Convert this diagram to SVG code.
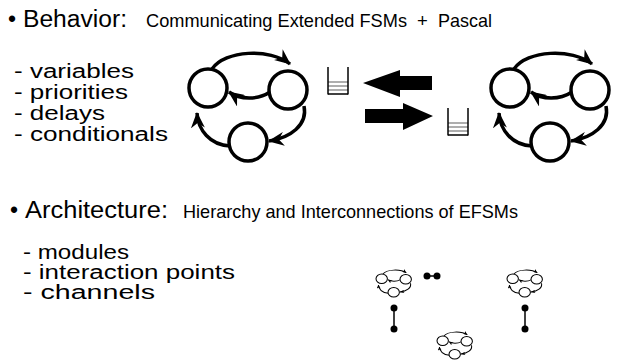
<svg xmlns="http://www.w3.org/2000/svg" xmlns:xlink="http://www.w3.org/1999/xlink" width="621" height="364" viewBox="0 0 621 364">
  <style>
    .head { font-family: "Liberation Sans", Arial, sans-serif; font-size: 23px; fill: #000; }
    .sub { font-family: "Liberation Sans", Arial, sans-serif; font-size: 18.5px; fill: #000; }
    .item { font-family: "Liberation Sans", Arial, sans-serif; font-size: 19.5px; fill: #000; }
    .state { fill: #fff; stroke: #000; stroke-width: 3.5; }
    .trans { fill: none; stroke: #000; stroke-width: 3.5; marker-end: url(#barb); }
    .qside { stroke: #000; stroke-width: 1.5; }
    .qslot { stroke: #777; stroke-width: 1.2; }
    .chan { stroke: #000; stroke-width: 1.5; }
  </style>
  <defs>
    <marker id="barb" markerUnits="userSpaceOnUse" markerWidth="16" markerHeight="14" refX="15" refY="7" orient="auto" viewBox="0 0 16 14">
      <path d="M0,0 L16,7 L0,14 L5,7 z" fill="#000"/>
    </marker>
    <!-- extended FSM: three states with cyclic transitions, origin at top-left of its box -->
    <g id="efsm">
      <path class="trans" d="M 23 16 C 36 -3, 81 -5, 101 11"/>
      <path class="trans" d="M 81 39 C 69 47, 51 47, 40 39"/>
      <path class="trans" d="M 115 53 C 119 72, 101 85, 80 88"/>
      <path class="trans" d="M 41 93 C 21 92, 9 77, 8 60"/>
      <circle class="state" cx="19" cy="35" r="19"/>
      <circle class="state" cx="99" cy="37" r="19"/>
      <circle class="state" cx="59" cy="89" r="19"/>
    </g>
  </defs>

  <!-- Behavior heading -->
  <g id="behavior-title">
    <text class="head" x="8" y="27">•</text>
    <text class="head" x="23" y="27" textLength="104" lengthAdjust="spacingAndGlyphs">Behavior:</text>
    <text class="sub" x="146" y="27" textLength="261" lengthAdjust="spacingAndGlyphs">Communicating Extended FSMs</text>
    <text class="sub" x="417" y="27">+</text>
    <text class="sub" x="438" y="27" textLength="54" lengthAdjust="spacingAndGlyphs">Pascal</text>
  </g>

  <g id="behavior-list">
    <text class="item" x="14" y="78" textLength="120" lengthAdjust="spacingAndGlyphs">- variables</text>
    <text class="item" x="14" y="99" textLength="114" lengthAdjust="spacingAndGlyphs">- priorities</text>
    <text class="item" x="14" y="120" textLength="91" lengthAdjust="spacingAndGlyphs">- delays</text>
    <text class="item" x="14" y="141" textLength="154" lengthAdjust="spacingAndGlyphs">- conditionals</text>
  </g>

  <!-- two communicating machines -->
  <g id="fsm-left">
    <use xlink:href="#efsm" transform="translate(189,53)"/>
  </g>
  <g id="fsm-right">
    <use xlink:href="#efsm" transform="translate(491,53)"/>
  </g>

  <!-- input queues -->
  <g id="queue-left">
    <line class="qslot" x1="328" y1="82" x2="348" y2="82"/>
    <line class="qslot" x1="328" y1="86" x2="348" y2="86"/>
    <line class="qslot" x1="328" y1="90" x2="348" y2="90"/>
    <line class="qside" x1="328" y1="67" x2="328" y2="94.5"/>
    <line class="qside" x1="348" y1="67" x2="348" y2="94.5"/>
    <line class="qside" x1="328" y1="94" x2="348" y2="94"/>
  </g>
  <g id="queue-right">
    <line class="qslot" x1="448" y1="123" x2="468" y2="123"/>
    <line class="qslot" x1="448" y1="127" x2="468" y2="127"/>
    <line class="qslot" x1="448" y1="131" x2="468" y2="131"/>
    <line class="qside" x1="448" y1="108" x2="448" y2="135.5"/>
    <line class="qside" x1="468" y1="108" x2="468" y2="135.5"/>
    <line class="qside" x1="448" y1="135" x2="468" y2="135"/>
  </g>

  <!-- message flow between the machines -->
  <g id="flows">
    <polygon points="363,83 400,70 400,76 432,76 432,90 400,90 400,97" fill="#000"/>
    <polygon points="433,116 403,103 403,109 365,109 365,123 403,123 403,130" fill="#000"/>
  </g>

  <!-- Architecture heading -->
  <g id="architecture-title">
    <text class="head" x="10" y="218">•</text>
    <text class="head" x="25" y="218" textLength="143" lengthAdjust="spacingAndGlyphs">Architecture:</text>
    <text class="sub" x="183" y="218" textLength="335" lengthAdjust="spacingAndGlyphs">Hierarchy and Interconnections of EFSMs</text>
  </g>

  <g id="architecture-list">
    <text class="item" x="23" y="259" textLength="106" lengthAdjust="spacingAndGlyphs">- modules</text>
    <text class="item" x="23" y="279" textLength="212" lengthAdjust="spacingAndGlyphs">- interaction points</text>
    <text class="item" x="23" y="299" textLength="132" lengthAdjust="spacingAndGlyphs">- channels</text>
  </g>

  <!-- module hierarchy -->
  <g id="module-a">
    <use xlink:href="#efsm" transform="translate(376,270) scale(0.3,0.25)"/>
  </g>
  <g id="module-b">
    <use xlink:href="#efsm" transform="translate(507,270) scale(0.3,0.25)"/>
  </g>
  <g id="module-c">
    <use xlink:href="#efsm" transform="translate(437,332) scale(0.3,0.25)"/>
  </g>

  <g id="channels">
    <line class="chan" x1="427" y1="276" x2="437" y2="276"/>
    <circle cx="427" cy="276" r="3.5"/>
    <circle cx="437" cy="276" r="3.5"/>
    <line class="chan" x1="394" y1="308" x2="394" y2="329"/>
    <circle cx="394" cy="308" r="3.5"/>
    <circle cx="394" cy="329" r="3.5"/>
    <line class="chan" x1="525" y1="308" x2="525" y2="329"/>
    <circle cx="525" cy="308" r="3.5"/>
    <circle cx="525" cy="329" r="3.5"/>
  </g>
</svg>
